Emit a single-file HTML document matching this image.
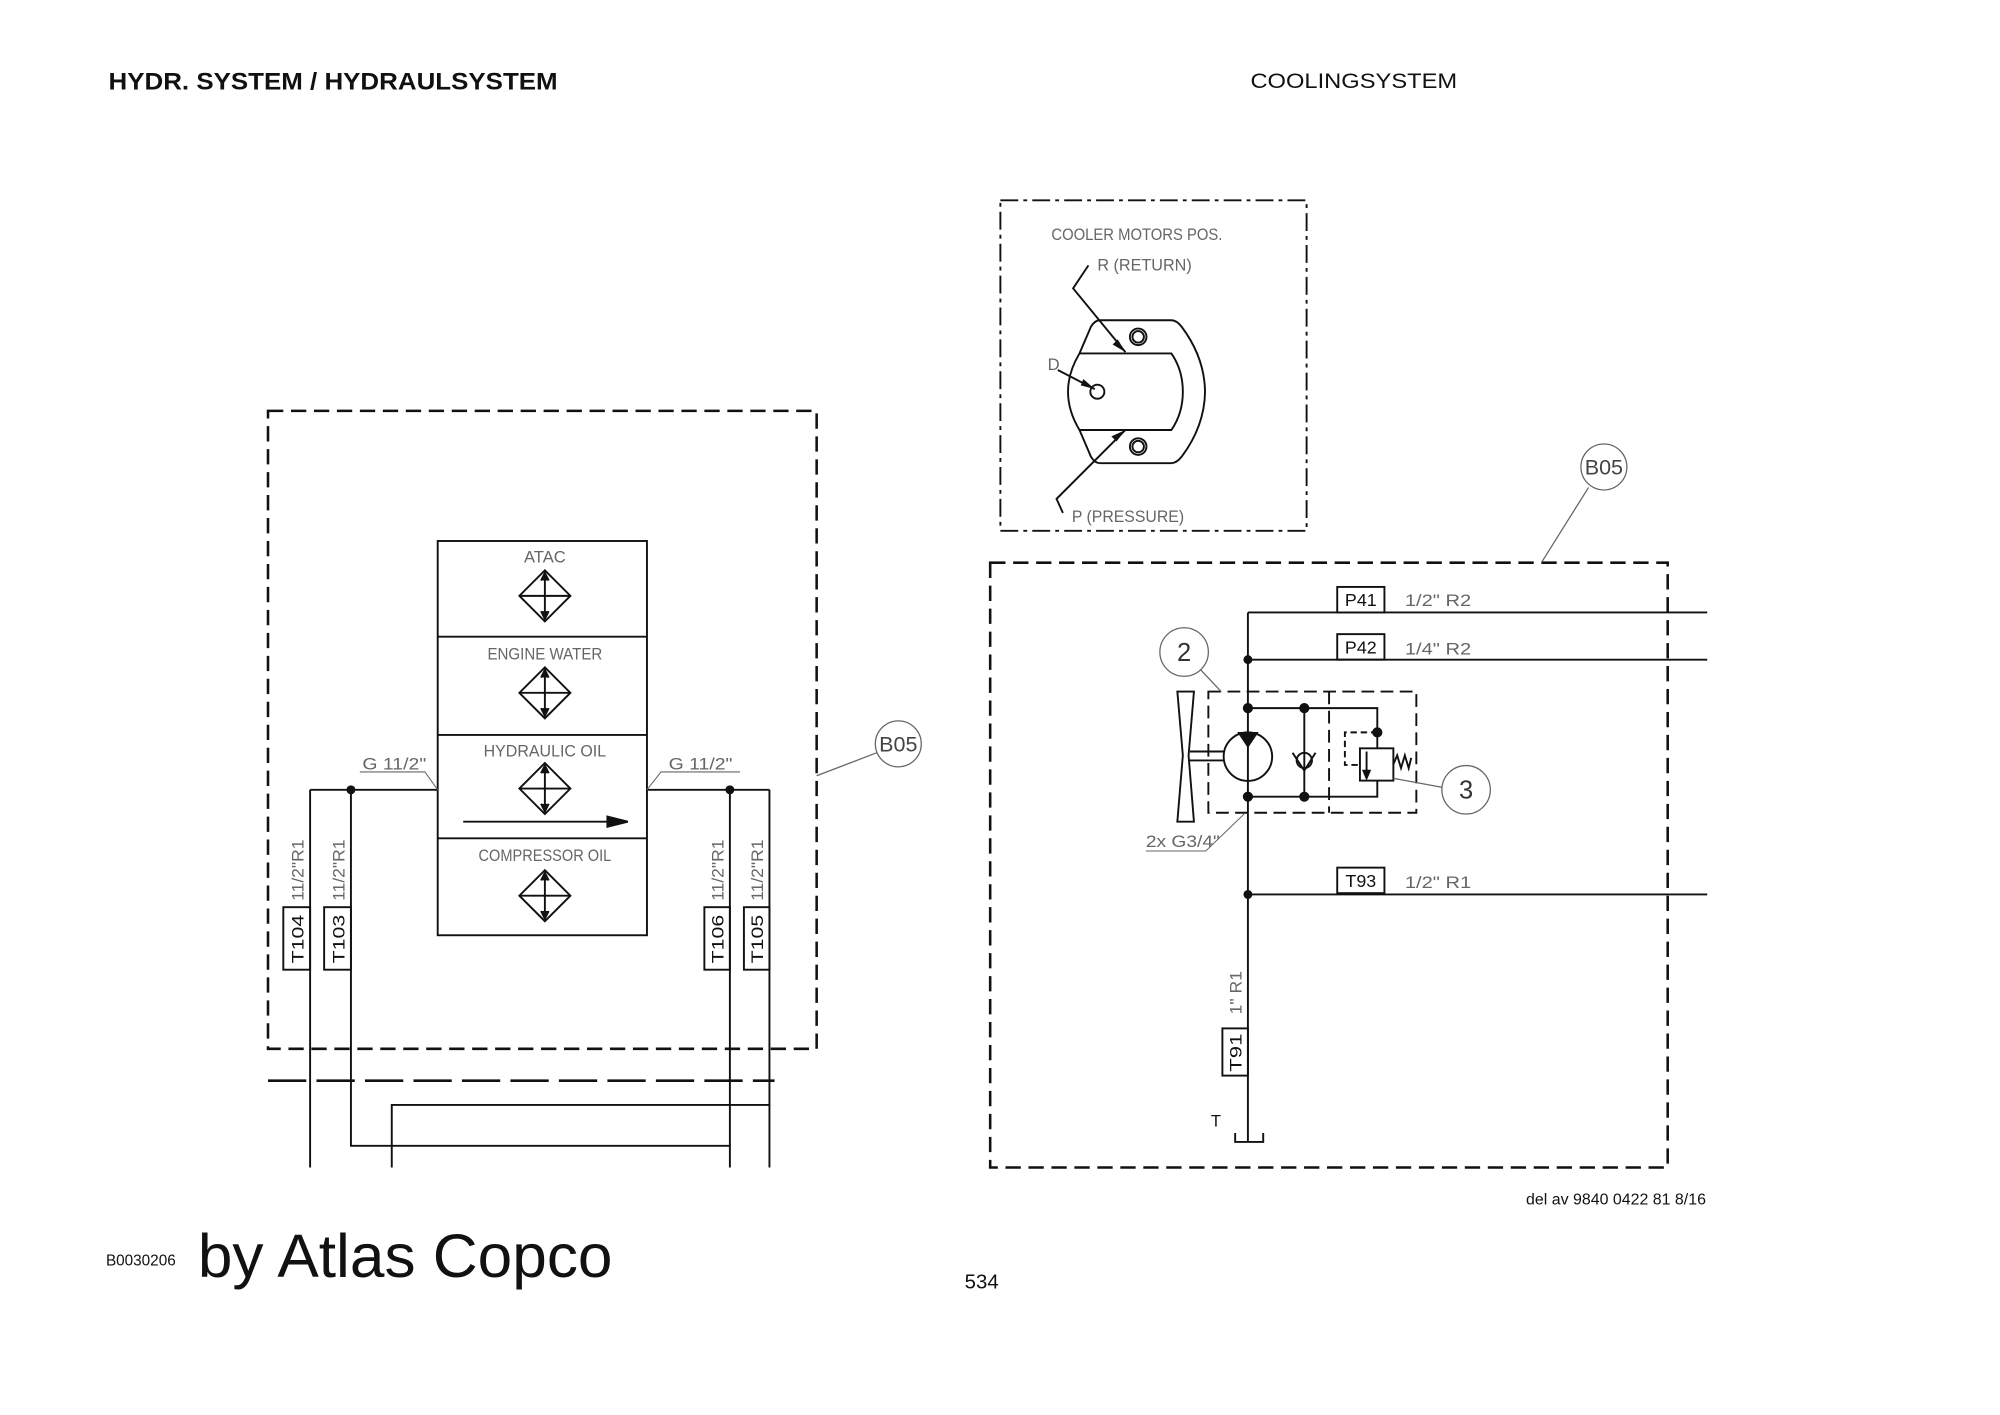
<!DOCTYPE html>
<html><head><meta charset="utf-8"><style>
html,body{margin:0;padding:0;background:#fff}
svg{display:block}
.t{font-family:"Liberation Sans",sans-serif;fill:#666}
</style></head><body>
<svg width="2000" height="1415" viewBox="0 0 1567.4 1109" xmlns="http://www.w3.org/2000/svg">
<rect width="1567.4" height="1109" fill="#fff"/>
<text x="85" y="70" font-family="Liberation Sans,sans-serif" font-weight="bold" font-size="19" fill="#111" textLength="352" lengthAdjust="spacingAndGlyphs">HYDR. SYSTEM / HYDRAULSYSTEM</text>
<text x="980" y="69" font-family="Liberation Sans,sans-serif" font-size="17" fill="#111" textLength="162" lengthAdjust="spacingAndGlyphs">COOLINGSYSTEM</text>
<text x="1196" y="944" font-family="Liberation Sans,sans-serif" font-size="12.5" fill="#111">del av 9840 0422 81 8/16</text>
<text x="83" y="992" font-family="Liberation Sans,sans-serif" font-size="12" fill="#111">B0030206</text>
<text x="155" y="1001" font-family="Liberation Sans,sans-serif" font-size="48" fill="#111" textLength="325" lengthAdjust="spacingAndGlyphs">by Atlas Copco</text>
<text x="756" y="1010" font-family="Liberation Sans,sans-serif" font-size="16" fill="#111">534</text>

<g fill="none" stroke="#111" stroke-width="1.5">
<rect x="210" y="322" width="430" height="500" stroke-dasharray="12,6" stroke-width="2"/>
<line x1="210" y1="847" x2="607" y2="847" stroke-dasharray="30,8" stroke-width="2"/>
<rect x="343" y="424" width="164" height="309"/>
<line x1="343" y1="499" x2="507" y2="499"/>
<line x1="343" y1="576" x2="507" y2="576"/>
<line x1="343" y1="657" x2="507" y2="657"/>
<g id="dm">
<path d="M427,447 L447,467 L427,487 L407,467 Z"/>
<line x1="407" y1="467" x2="447" y2="467"/>
<line x1="427" y1="451" x2="427" y2="483"/>
<path d="M424,455 L427,449 L430,455 M424,479 L427,485 L430,479" fill="#111"/>
</g>
<use href="#dm" y="76"/>
<use href="#dm" y="151"/>
<use href="#dm" y="235"/>
<line x1="363" y1="644" x2="480" y2="644"/>
<path d="M476,640 L492,644 L476,648 Z" fill="#111"/>
<line x1="243" y1="619" x2="343" y2="619"/>
<line x1="507" y1="619" x2="603" y2="619"/>
<line x1="243" y1="619" x2="243" y2="915"/>
<polyline points="275,619 275,898 572,898 572,915"/>
<line x1="572" y1="619" x2="572" y2="898"/>
<polyline points="307,915 307,866 603,866 603,619"/>
<line x1="603" y1="866" x2="603" y2="915"/>
<rect x="222" y="711" width="21" height="49"/>
<rect x="254" y="711" width="21" height="49"/>
<rect x="552" y="711" width="20" height="49"/>
<rect x="583" y="711" width="20" height="49"/>
<polyline points="282,605 333,605 343,619" stroke-width="0.8" stroke="#666"/>
<polyline points="507,619 518,605 580,605" stroke-width="0.8" stroke="#666"/>
<circle cx="704" cy="583" r="18" stroke-width="1" stroke="#666"/>
<line x1="640" y1="608" x2="687" y2="590" stroke-width="1" stroke="#666"/>

<rect x="784" y="157" width="240" height="259" stroke-dasharray="14,4,3,4" stroke-width="1.5"/>
<path d="M862,251 L918,251 Q922,251 926,256 Q944,280 944.4,307 Q944,334 926,358 Q922,363 918,363 L862,363 Q858,363 855,358 L846,337 Q837,322 837,307 Q837,292 846,277 L855,256 Q858,251 862,251 Z"/>
<path d="M846,277 L918,277 Q927,290 927,307 Q927,324 918,337 L846,337"/>
<circle cx="892" cy="264" r="6.5"/><circle cx="892" cy="264" r="4.5"/>
<circle cx="892" cy="350" r="6.5"/><circle cx="892" cy="350" r="4.5"/>
<circle cx="860" cy="307" r="5.5"/>
<polyline points="853,208 841,226 882,276"/>
<polyline points="833,402 828,391 882,337"/>
<line x1="829" y1="290" x2="858" y2="305"/>
<g fill="#111" stroke="none">
<path d="M882,276 L872,270 L876,266 Z"/>
<path d="M882,337 L871,342 L875,346 Z"/>
<path d="M858,305 L847,302 L849,297 Z"/>
</g>

<rect x="776" y="441" width="531" height="474" stroke-dasharray="12,6" stroke-width="2"/>
<circle cx="1257" cy="366" r="18" stroke-width="1" stroke="#666"/>
<line x1="1245" y1="382" x2="1208" y2="441" stroke-width="1" stroke="#666"/>
<line x1="978" y1="480" x2="978" y2="895"/>
<line x1="978" y1="480" x2="1338" y2="480"/>
<line x1="978" y1="517" x2="1338" y2="517"/>
<line x1="978" y1="701" x2="1338" y2="701"/>
<polyline points="968,888 968,895 990,895 990,888"/>
<rect x="1048" y="460" width="37" height="20"/>
<rect x="1048" y="497" width="37" height="20"/>
<rect x="1048" y="680" width="37" height="20"/>
<rect x="958" y="806" width="20" height="37"/>
<rect x="947" y="542" width="163" height="95" stroke-dasharray="10,5"/>
<line x1="1041.6" y1="542" x2="1041.6" y2="637" stroke-dasharray="10,5"/>
<polyline points="978,555 1079.4,555 1079.4,586.5"/>
<polyline points="978,624.4 1079.4,624.4 1079.4,611.8"/>
<line x1="1022.2" y1="555" x2="1022.2" y2="624.4"/>
<circle cx="1022.2" cy="596" r="6"/>
<polyline points="1013,590 1022.2,604 1031,590"/>
<rect x="1065.8" y="586.5" width="26.2" height="25.3"/>
<line x1="1071" y1="589" x2="1071" y2="607"/>
<path d="M1068.5,604 L1071,610 L1073.5,604 Z" fill="#111"/>
<polyline points="1079.4,574 1054,574 1054,599.5 1065.8,599.5" stroke-dasharray="5,3"/>
<polyline points="1092,599 1095,592 1098,602 1101,592 1104,602 1106,594"/>
<circle cx="978" cy="593" r="19"/>
<path d="M971,574.5 L985,574.5 L978,585 Z" fill="#111"/>
<line x1="932.6" y1="589" x2="959" y2="589"/>
<line x1="932.6" y1="596" x2="959" y2="596"/>
<path d="M922.7,542 L935.7,542 L931.5,592 L935.7,644 L922.7,644 L927,592 Z"/>
<circle cx="928" cy="511" r="19" stroke-width="1" stroke="#666"/>
<line x1="941" y1="525" x2="957" y2="542" stroke-width="1" stroke="#666"/>
<circle cx="1149" cy="619" r="19" stroke-width="1" stroke="#666"/>
<line x1="1092" y1="610" x2="1130" y2="617" stroke-width="1" stroke="#666"/>
<polyline points="898,667 945,667 975,638" stroke-width="0.8" stroke="#666"/>
</g>
<g fill="#111">
<circle cx="275" cy="619" r="3.5"/><circle cx="572" cy="619" r="3.5"/>
<circle cx="978" cy="517" r="3.5"/><circle cx="978" cy="701" r="3.5"/>
<circle cx="978" cy="555" r="4"/><circle cx="1022.2" cy="555" r="4"/>
<circle cx="978" cy="624.4" r="4"/><circle cx="1022.2" cy="624.4" r="4"/>
<circle cx="1079.4" cy="574" r="4"/>
</g>

<g class="t" font-size="13">
<text x="427" y="441" text-anchor="middle">ATAC</text>
<text x="427" y="517" text-anchor="middle" textLength="90" lengthAdjust="spacingAndGlyphs">ENGINE WATER</text>
<text x="427" y="593" text-anchor="middle" textLength="96" lengthAdjust="spacingAndGlyphs">HYDRAULIC OIL</text>
<text x="427" y="675" text-anchor="middle" textLength="104" lengthAdjust="spacingAndGlyphs">COMPRESSOR OIL</text>
<text x="284" y="603" textLength="50" lengthAdjust="spacingAndGlyphs">G 11/2"</text>
<text x="524" y="603" textLength="50" lengthAdjust="spacingAndGlyphs">G 11/2"</text>
<text transform="translate(238,706) rotate(-90)" textLength="48" lengthAdjust="spacingAndGlyphs">11/2"R1</text>
<text transform="translate(270,706) rotate(-90)" textLength="48" lengthAdjust="spacingAndGlyphs">11/2"R1</text>
<text transform="translate(567,706) rotate(-90)" textLength="48" lengthAdjust="spacingAndGlyphs">11/2"R1</text>
<text transform="translate(598,706) rotate(-90)" textLength="48" lengthAdjust="spacingAndGlyphs">11/2"R1</text>
<text x="824" y="188" textLength="134" lengthAdjust="spacingAndGlyphs">COOLER MOTORS POS.</text>
<text x="860" y="212" textLength="74" lengthAdjust="spacingAndGlyphs">R (RETURN)</text>
<text x="840" y="409" textLength="88" lengthAdjust="spacingAndGlyphs">P (PRESSURE)</text>
<text x="821" y="290">D</text>
<text x="1101" y="475" textLength="52" lengthAdjust="spacingAndGlyphs">1/2" R2</text>
<text x="1101" y="513" textLength="52" lengthAdjust="spacingAndGlyphs">1/4" R2</text>
<text x="1101" y="696" textLength="52" lengthAdjust="spacingAndGlyphs">1/2" R1</text>
<text x="898" y="664" textLength="58" lengthAdjust="spacingAndGlyphs">2x G3/4"</text>
<text transform="translate(973,795) rotate(-90)" textLength="34" lengthAdjust="spacingAndGlyphs">1" R1</text>
<text x="1257" y="372" text-anchor="middle" font-size="17" fill="#444" textLength="30" lengthAdjust="spacingAndGlyphs">B05</text>
<text x="704" y="589" text-anchor="middle" font-size="17" fill="#444" textLength="30" lengthAdjust="spacingAndGlyphs">B05</text>
</g>
<g font-family="Liberation Sans,sans-serif" font-size="14" fill="#111">
<text x="1066.5" y="475" text-anchor="middle">P41</text>
<text x="1066.5" y="512" text-anchor="middle">P42</text>
<text x="1066.5" y="695" text-anchor="middle">T93</text>
<text transform="translate(973,840) rotate(-90)" font-size="13" textLength="30" lengthAdjust="spacingAndGlyphs">T91</text>
<text transform="translate(238,755) rotate(-90)" font-size="13" textLength="38" lengthAdjust="spacingAndGlyphs">T104</text>
<text transform="translate(270,755) rotate(-90)" font-size="13" textLength="38" lengthAdjust="spacingAndGlyphs">T103</text>
<text transform="translate(567,755) rotate(-90)" font-size="13" textLength="38" lengthAdjust="spacingAndGlyphs">T106</text>
<text transform="translate(598,755) rotate(-90)" font-size="13" textLength="38" lengthAdjust="spacingAndGlyphs">T105</text>
<text x="949" y="883" font-size="13">T</text>
<text x="928" y="518" text-anchor="middle" font-size="20" fill="#333">2</text>
<text x="1149" y="626" text-anchor="middle" font-size="20" fill="#333">3</text>
</g>
</svg>
</body></html>
